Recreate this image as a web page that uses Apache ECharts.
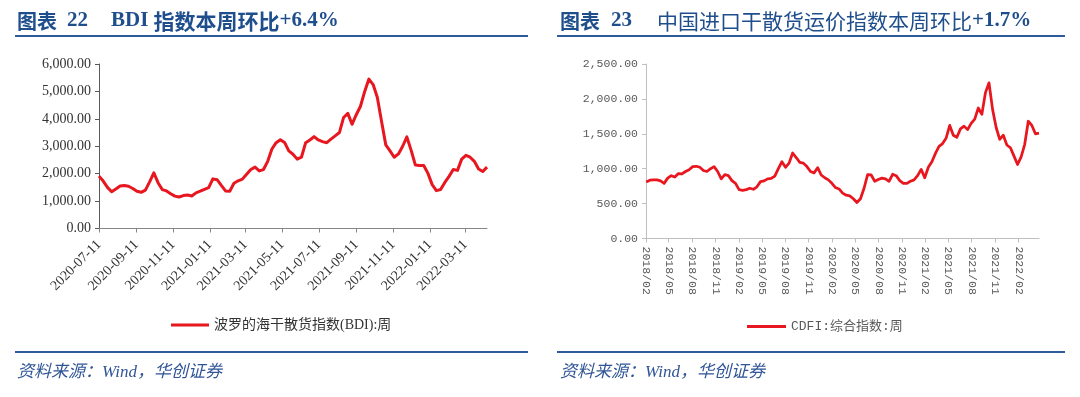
<!DOCTYPE html>
<html>
<head>
<meta charset="utf-8">
<script src="https://cdn.jsdelivr.net/npm/echarts@6/dist/echarts.min.js"></script>
<style>
    html, body { margin: 0; padding: 0; background: #fff; }
    #chart { width: 1080px; height: 397px; }
</style>
</head>
<body>
<div id="chart"></div>
<script>
    // BDI weekly, from 2020-07-11
    var bdiStart = '2020-07-11';
    var bdiValues = [
        1910, 1730, 1500, 1340, 1440, 1550, 1570, 1540, 1460, 1360,
        1320, 1400, 1700, 2030, 1670, 1420, 1370, 1270, 1180, 1150,
        1200, 1220, 1185, 1300, 1360, 1430, 1490, 1810, 1780, 1570,
        1370, 1360, 1650, 1740, 1800, 1980, 2150, 2240, 2100, 2150,
        2450, 2900, 3130, 3240, 3140, 2830, 2710, 2530, 2600, 3130,
        3230, 3350, 3230, 3170, 3130, 3260, 3380, 3500, 4050, 4200,
        3800, 4150, 4460, 5000, 5450, 5250, 4780, 3900, 3050, 2830,
        2600, 2720, 3000, 3340, 2860, 2320, 2300, 2300, 2010, 1600,
        1380, 1420, 1680, 1900, 2150, 2120, 2530, 2670, 2600, 2450,
        2170, 2080, 2240
    ];
    var bdiTicks = ['2020-07-11', '2020-09-11', '2020-11-11', '2021-01-11', '2021-03-11', '2021-05-11',
        '2021-07-11', '2021-09-11', '2021-11-11', '2022-01-11', '2022-03-11'];

    // CDFI, one reading every two weeks from 2018-02-02
    var cdfiStart = '2018-02-02';
    var cdfiValues = [
        810, 835, 840, 840, 825, 790, 865, 900, 880, 930,
        925, 960, 985, 1030, 1035, 1020, 975, 960, 1000, 1030,
        960, 855, 915, 900, 830, 790, 700, 690, 700, 720,
        705, 740, 815, 825, 855, 860, 895, 1000, 1100, 1020,
        1080, 1225, 1160, 1090, 1080, 1030, 960, 940, 1015, 910,
        870, 840, 790, 730, 710, 650, 620, 610, 570, 515,
        570, 720, 915, 910, 820, 845, 865, 855, 820, 920,
        900, 830, 790, 790, 820, 840, 900, 990, 870, 1020,
        1100, 1220, 1320, 1360, 1440, 1620, 1480, 1450, 1570, 1610,
        1560, 1650, 1710, 1870, 1780, 2090, 2230, 1850, 1590, 1420,
        1480, 1340, 1300, 1180, 1060, 1170, 1350, 1680, 1620, 1500, 1510
    ];
    var cdfiTicks = ['2018-02-01', '2018-05-01', '2018-08-01', '2018-11-01', '2019-02-01', '2019-05-01',
        '2019-08-01', '2019-11-01', '2020-02-01', '2020-05-01', '2020-08-01', '2020-11-01',
        '2021-02-01', '2021-05-01', '2021-08-01', '2021-11-01', '2022-02-01'];

    var DAY = 86400000;
    var RED = '#e8161e';
    var BLUE = '#1f4e8c';
    var serif = '"Liberation Serif", "Noto Sans CJK SC", serif';
    var mono = '"Liberation Mono", "Noto Sans CJK SC", monospace';
    var cjk = '"Noto Sans CJK SC", sans-serif';

    function ts(s) { return new Date(s + 'T00:00:00Z').getTime(); }
    function pad(n) { return n < 10 ? '0' + n : '' + n; }
    function ymd(v) { var d = new Date(v); return d.getUTCFullYear() + '-' + pad(d.getUTCMonth() + 1) + '-' + pad(d.getUTCDate()); }
    function ym(v) { var d = new Date(v); return d.getUTCFullYear() + '/' + pad(d.getUTCMonth() + 1); }
    function money(v) {
        var s = String(Math.round(v));
        return s.replace(/\B(?=(\d{3})+(?!\d))/g, ',') + '.00';
    }
    function pairs(start, step, values) {
        var t0 = ts(start);
        return values.map(function (v, i) { return [t0 + i * step * DAY, v]; });
    }

    var bdiData = pairs(bdiStart, 7, bdiValues);
    var cdfiData = pairs(cdfiStart, 14, cdfiValues);
    var bdiTickValues = bdiTicks.map(ts);
    var cdfiTickValues = cdfiTicks.map(ts);

    var chart = echarts.init(document.getElementById('chart'));
    chart.setOption({
        animation: false,
        backgroundColor: '#fff',
        graphic: [
            { type: 'line', shape: { x1: 15, y1: 36, x2: 528, y2: 36 }, style: { stroke: '#2e5c9a', lineWidth: 2 } },
            { type: 'line', shape: { x1: 557, y1: 36, x2: 1065, y2: 36 }, style: { stroke: '#2e5c9a', lineWidth: 2 } },
            { type: 'line', shape: { x1: 15, y1: 352, x2: 528, y2: 352 }, style: { stroke: '#2e5c9a', lineWidth: 2 } },
            { type: 'line', shape: { x1: 557, y1: 352, x2: 1065, y2: 352 }, style: { stroke: '#2e5c9a', lineWidth: 2 } },
            { type: 'text', x: 17, y: 21, style: { text: '图表', font: 'bold 20px ' + cjk, fill: BLUE, verticalAlign: 'middle' } },
            { type: 'text', x: 67, y: 21, style: { text: '22', font: 'bold 21px ' + serif, fill: BLUE, verticalAlign: 'middle' } },
            {
                type: 'text', x: 111, y: 21,
                style: {
                    text: '{l|BDI }{c|指数本周环比}{l|+6.4%}', verticalAlign: 'middle', fill: BLUE,
                    rich: {
                        l: { fontFamily: serif, fontWeight: 'bold', fontSize: 21, fill: BLUE },
                        c: { fontFamily: cjk, fontWeight: 'bold', fontSize: 21, fill: BLUE }
                    }
                }
            },
            { type: 'text', x: 560, y: 21, style: { text: '图表', font: 'bold 20px ' + cjk, fill: BLUE, verticalAlign: 'middle' } },
            { type: 'text', x: 611, y: 21, style: { text: '23', font: 'bold 21px ' + serif, fill: BLUE, verticalAlign: 'middle' } },
            {
                type: 'text', x: 657, y: 21,
                style: {
                    text: '{c|中国进口干散货运价指数本周环比}{l|+1.7%}', verticalAlign: 'middle', fill: BLUE,
                    rich: {
                        l: { fontFamily: serif, fontWeight: 'bold', fontSize: 21, fill: BLUE },
                        c: { fontFamily: cjk, fontWeight: 'normal', fontSize: 21, fill: BLUE }
                    }
                }
            },
            { type: 'text', x: 17, y: 373, style: { text: '资料来源：Wind，华创证券', font: 'italic 17px ' + serif, fill: '#2f5597', verticalAlign: 'middle' } },
            { type: 'text', x: 560, y: 373, style: { text: '资料来源：Wind，华创证券', font: 'italic 17px ' + serif, fill: '#2f5597', verticalAlign: 'middle' } }
        ],
        legend: [
            {
                data: ['波罗的海干散货指数(BDI):周'], left: 166, top: 313,
                icon: 'rect', itemWidth: 38, itemHeight: 3,
                textStyle: { fontFamily: serif, fontSize: 14, color: '#333' }
            },
            {
                data: ['CDFI:综合指数:周'], left: 742, top: 315,
                icon: 'rect', itemWidth: 39, itemHeight: 3,
                textStyle: { fontFamily: mono, fontSize: 13, color: '#595959' }
            }
        ],
        grid: [
            { left: 99, top: 64, width: 388, height: 164.5 },
            { left: 646, top: 64, width: 393, height: 174.5 }
        ],
        xAxis: [
            {
                type: 'value', gridIndex: 0,
                min: bdiData[0][0], max: bdiData[bdiData.length - 1][0],
                splitLine: { show: false },
                axisLine: { show: true, lineStyle: { color: '#868686' } },
                axisTick: { show: true, customValues: bdiTickValues, length: 4, lineStyle: { color: '#868686' } },
                axisLabel: {
                    customValues: bdiTickValues, rotate: 45, margin: 14,
                    fontFamily: serif, fontSize: 14, color: '#333', formatter: ymd
                }
            },
            {
                type: 'value', gridIndex: 1,
                min: cdfiTickValues[0], max: cdfiData[cdfiData.length - 1][0],
                splitLine: { show: false },
                axisLine: { show: true, lineStyle: { color: '#bfbfbf' } },
                axisTick: { show: true, customValues: cdfiTickValues, length: 4, lineStyle: { color: '#bfbfbf' } },
                axisLabel: {
                    customValues: cdfiTickValues, rotate: -90, margin: 8,
                    fontFamily: mono, fontSize: 11.5, color: '#595959', formatter: ym
                }
            }
        ],
        yAxis: [
            {
                type: 'value', gridIndex: 0, min: 0, max: 6000, interval: 1000,
                splitLine: { show: false },
                axisLine: { show: true, lineStyle: { color: '#595959' } },
                axisTick: { show: true, length: 4, lineStyle: { color: '#595959' } },
                axisLabel: { margin: 8, fontFamily: serif, fontSize: 14, color: '#333', formatter: money }
            },
            {
                type: 'value', gridIndex: 1, min: 0, max: 2500, interval: 500,
                splitLine: { show: false },
                axisLine: { show: true, lineStyle: { color: '#bfbfbf' } },
                axisTick: { show: true, length: 4, lineStyle: { color: '#bfbfbf' } },
                axisLabel: { margin: 8, fontFamily: mono, fontSize: 11.5, color: '#595959', formatter: money }
            }
        ],
        series: [
            {
                name: '波罗的海干散货指数(BDI):周', type: 'line', xAxisIndex: 0, yAxisIndex: 0,
                data: bdiData, showSymbol: false, color: RED,
                lineStyle: { color: RED, width: 3, join: 'round' }
            },
            {
                name: 'CDFI:综合指数:周', type: 'line', xAxisIndex: 1, yAxisIndex: 1,
                data: cdfiData, showSymbol: false, color: RED,
                lineStyle: { color: RED, width: 2.75, join: 'round' }
            }
        ]
    });
</script>
</body>
</html>
